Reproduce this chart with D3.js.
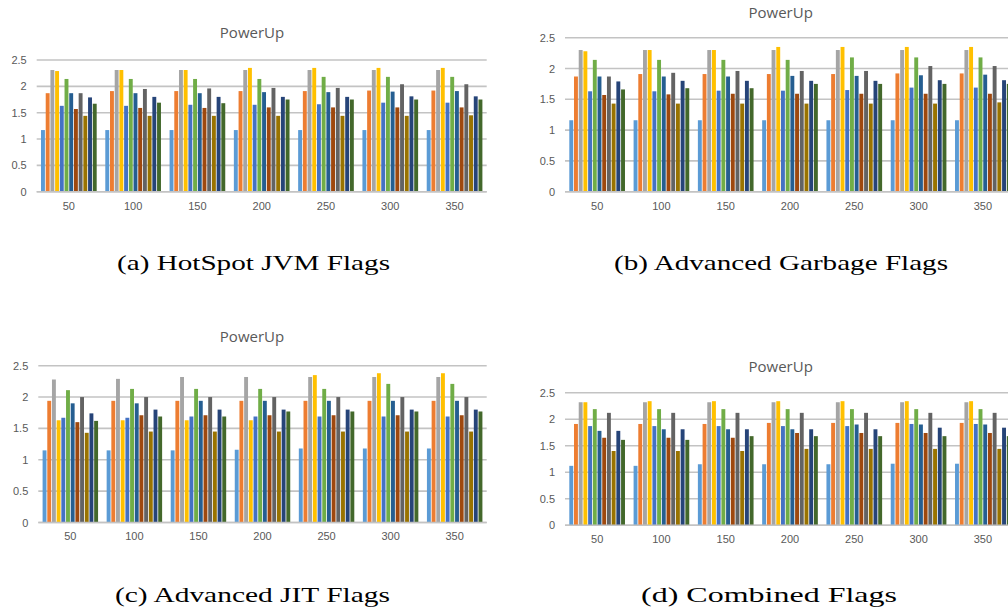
<!DOCTYPE html>
<html>
<head>
<meta charset="utf-8">
<script src="https://cdn.jsdelivr.net/npm/d3@7"></script>
<style>
  body { margin: 0; background: #fff; }
  svg { display: block; }
  .tick text { fill: #595959; font-family: "Liberation Sans", Arial, sans-serif; font-size: 11px; }
  .title { fill: #595959; font-family: "Open Sans", "Liberation Sans", sans-serif; font-size: 15px; }
  .caption { fill: #000; font-family: "Liberation Serif", "DejaVu Serif", serif; font-size: 22px; }
</style>
</head>
<body>
<svg id="chart" width="1008" height="608"></svg>
<script>
// x categories (heap sizes) and y ticks shared by all four panels
const groups = ['50', '100', '150', '200', '250', '300', '350'];
const yTicks = [0, 0.5, 1, 1.5, 2, 2.5];

// twelve series, Excel office palette
const seriesColors = [
  '#5B9BD5', '#ED7D31', '#A5A5A5', '#FFC000', '#4472C4', '#70AD47',
  '#255E91', '#9E480E', '#636363', '#997300', '#264478', '#43682B'
];

// one row per group, one value per series
const hotspotValues = [
  [1.17, 1.87, 2.31, 2.29, 1.63, 2.14, 1.87, 1.57, 1.87, 1.44, 1.79, 1.67],
  [1.17, 1.91, 2.31, 2.31, 1.63, 2.14, 1.87, 1.59, 1.95, 1.44, 1.80, 1.69],
  [1.17, 1.91, 2.31, 2.31, 1.65, 2.14, 1.87, 1.59, 1.96, 1.44, 1.80, 1.68],
  [1.17, 1.91, 2.31, 2.35, 1.65, 2.14, 1.89, 1.60, 1.97, 1.44, 1.80, 1.75],
  [1.17, 1.91, 2.31, 2.35, 1.66, 2.18, 1.89, 1.60, 1.97, 1.44, 1.80, 1.75],
  [1.17, 1.92, 2.31, 2.35, 1.69, 2.18, 1.90, 1.60, 2.04, 1.44, 1.81, 1.75],
  [1.17, 1.92, 2.31, 2.35, 1.69, 2.18, 1.91, 1.60, 2.04, 1.45, 1.81, 1.75]
];
const garbageValues = [
  [1.16, 1.87, 2.30, 2.28, 1.63, 2.14, 1.87, 1.57, 1.87, 1.43, 1.79, 1.66],
  [1.16, 1.91, 2.30, 2.30, 1.63, 2.14, 1.87, 1.58, 1.93, 1.43, 1.80, 1.68],
  [1.16, 1.91, 2.30, 2.30, 1.64, 2.14, 1.87, 1.59, 1.96, 1.43, 1.80, 1.68],
  [1.16, 1.91, 2.30, 2.35, 1.64, 2.14, 1.88, 1.59, 1.96, 1.43, 1.80, 1.75],
  [1.16, 1.91, 2.30, 2.35, 1.65, 2.18, 1.88, 1.59, 1.96, 1.43, 1.80, 1.75],
  [1.16, 1.92, 2.30, 2.35, 1.69, 2.18, 1.89, 1.59, 2.04, 1.43, 1.81, 1.75],
  [1.16, 1.92, 2.30, 2.35, 1.69, 2.18, 1.90, 1.59, 2.04, 1.45, 1.81, 1.75]
];
const jitValues = [
  [1.15, 1.94, 2.28, 1.63, 1.67, 2.11, 1.90, 1.60, 2.00, 1.43, 1.74, 1.62],
  [1.15, 1.94, 2.29, 1.63, 1.67, 2.13, 1.90, 1.71, 2.00, 1.45, 1.80, 1.69],
  [1.15, 1.94, 2.32, 1.63, 1.69, 2.13, 1.94, 1.71, 2.00, 1.45, 1.80, 1.69],
  [1.16, 1.94, 2.32, 1.63, 1.69, 2.13, 1.94, 1.71, 2.00, 1.45, 1.80, 1.77],
  [1.18, 1.94, 2.32, 2.35, 1.69, 2.13, 1.94, 1.71, 2.00, 1.45, 1.80, 1.77],
  [1.18, 1.94, 2.32, 2.38, 1.69, 2.21, 1.94, 1.71, 2.00, 1.45, 1.80, 1.77],
  [1.18, 1.94, 2.32, 2.38, 1.69, 2.21, 1.94, 1.71, 2.00, 1.45, 1.80, 1.77]
];
const combinedValues = [
  [1.12, 1.91, 2.32, 2.32, 1.87, 2.19, 1.78, 1.65, 2.12, 1.40, 1.78, 1.61],
  [1.12, 1.91, 2.32, 2.34, 1.87, 2.19, 1.81, 1.65, 2.12, 1.40, 1.81, 1.61],
  [1.15, 1.91, 2.32, 2.34, 1.87, 2.19, 1.81, 1.65, 2.12, 1.40, 1.81, 1.68],
  [1.15, 1.93, 2.32, 2.34, 1.87, 2.19, 1.81, 1.74, 2.12, 1.44, 1.81, 1.68],
  [1.15, 1.93, 2.32, 2.34, 1.87, 2.19, 1.90, 1.74, 2.12, 1.44, 1.81, 1.68],
  [1.16, 1.93, 2.32, 2.34, 1.91, 2.19, 1.90, 1.74, 2.12, 1.44, 1.84, 1.68],
  [1.16, 1.93, 2.32, 2.34, 1.91, 2.19, 1.90, 1.74, 2.12, 1.44, 1.84, 1.68]
];

const captions = ['(a) HotSpot JVM Flags', '(b) Advanced Garbage Flags', '(c) Advanced JIT Flags', '(d) Combined Flags'];

// panel geometry (page pixels)
const panels = [
  { values: hotspotValues,  left: 36.7, right: 486.7, top: 60,    bottom: 191.7, titleX: 252,   titleY: 38,  capX: 253.5, capY: 270, capW: 273 },
  { values: garbageValues,  left: 565,  right: 1015,  top: 37.7,  bottom: 191.7, titleX: 780.7, titleY: 18,  capX: 781,   capY: 270, capW: 334 },
  { values: jitValues,      left: 38.3, right: 486.7, top: 365.7, bottom: 522.5, titleX: 252,   titleY: 342, capX: 252.5, capY: 602, capW: 275 },
  { values: combinedValues, left: 565,  right: 1015,  top: 392.7, bottom: 525.2, titleX: 780.7, titleY: 372, capX: 769,   capY: 602, capW: 256 }
];

const svg = d3.select('#chart');

panels.forEach((p, i) => {
  let g = svg.append('g');

  let x0 = d3.scaleBand()
    .domain(groups)
    .range([p.left, p.right])
    .paddingInner(0.134)
    .paddingOuter(0.067);

  let x1 = d3.scaleBand()
    .domain(d3.range(seriesColors.length))
    .range([0, x0.bandwidth()])
    .paddingInner(0.17);

  let y = d3.scaleLinear()
    .domain([0, 2.5])
    .range([p.bottom, p.top]);

  // gridlines
  g.selectAll('.grid')
    .data(yTicks)
    .enter().append('line')
      .attr('class', 'grid')
      .attr('x1', p.left)
      .attr('x2', p.right)
      .attr('y1', d => y(d))
      .attr('y2', d => y(d))
      .attr('stroke', '#c3c3c3')
      .attr('stroke-width', 1.6);

  // y axis labels only
  let yAxis = g.append('g')
    .attr('transform', `translate(${p.left - 10},0)`)
    .call(d3.axisLeft(y).tickValues(yTicks).tickFormat(d3.format('')).tickSize(0).tickPadding(0));
  yAxis.select('.domain').remove();

  // bars
  let groupSel = g.selectAll('.group')
    .data(p.values)
    .enter().append('g')
      .attr('class', 'group')
      .attr('transform', (d, j) => `translate(${x0(groups[j])},0)`);

  groupSel.selectAll('rect')
    .data(d => d)
    .enter().append('rect')
      .attr('x', (d, k) => x1(k))
      .attr('width', x1.bandwidth())
      .attr('y', d => y(d))
      .attr('height', d => y(0) - y(d))
      .attr('fill', (d, k) => seriesColors[k]);

  // baseline on top of bars
  g.append('line')
    .attr('x1', p.left)
    .attr('x2', p.right)
    .attr('y1', y(0))
    .attr('y2', y(0))
    .attr('stroke', '#c3c3c3')
    .attr('stroke-width', 1.6);

  // x axis labels
  let xAxis = g.append('g')
    .attr('transform', `translate(0,${y(0) + 10})`)
    .call(d3.axisBottom(x0).tickSize(0).tickPadding(0));
  xAxis.select('.domain').remove();
  xAxis.selectAll('text').attr('dy', '0.71em');

  g.append('text')
    .attr('class', 'title')
    .attr('x', p.titleX)
    .attr('y', p.titleY)
    .attr('text-anchor', 'middle')
    .text('PowerUp');

  g.append('text')
    .attr('class', 'caption')
    .attr('x', p.capX)
    .attr('y', p.capY)
    .attr('text-anchor', 'middle')
    .attr('textLength', p.capW)
    .attr('lengthAdjust', 'spacingAndGlyphs')
    .text(captions[i]);
});
</script>
</body>
</html>
